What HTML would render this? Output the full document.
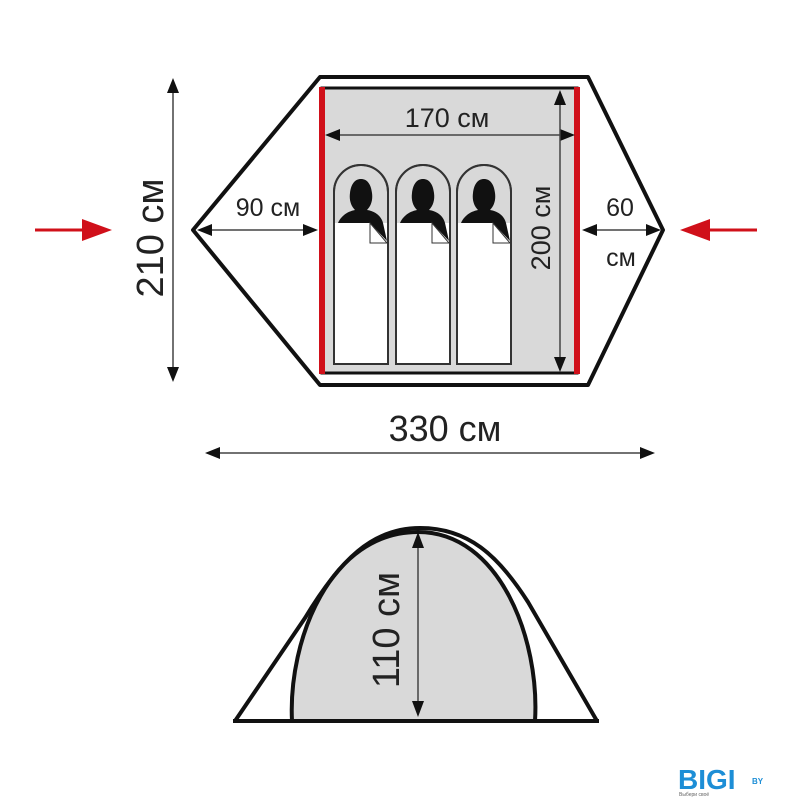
<!DOCTYPE html>
<html><head><meta charset="utf-8"><style>
html,body{margin:0;padding:0;background:#fff;}
svg{display:block;}
text{font-family:"Liberation Sans",sans-serif;fill:#222;}
</style></head><body>
<svg width="800" height="800" viewBox="0 0 800 800" xmlns="http://www.w3.org/2000/svg">
<defs>
<g id="bag">
<path d="M0,199 V27 A27,27 0 0 1 54,27 V199 Z" fill="#d8d8d8" stroke="#333" stroke-width="2"/>
<path d="M1,58 H53 V198 H1 Z" fill="#fff"/>
<path d="M4,58 C8,49 16,46 21,45 C17,41 15,35 16,28 C17,19 21,14 27,14 C33,14 37,19 38,28 C39,35 37,41 33,45 C40,46 47,50 49,58 L53,76 L36,58 Z" fill="#111"/>
<path d="M36,58 V78 H53 Z" fill="#fff" stroke="#333" stroke-width="1"/>
<path d="M0,199 V27 A27,27 0 0 1 54,27 V199 Z" fill="none" stroke="#333" stroke-width="2"/>
</g>
</defs>
<!-- top view -->
<polygon points="320,77 588,77 663,230 588,385 320,385 193,230" fill="#fff" stroke="#111" stroke-width="4" stroke-linejoin="round"/>
<rect x="322" y="88" width="255" height="285" fill="#d9d9d9" stroke="#111" stroke-width="3"/>
<line x1="322" y1="87" x2="322" y2="374" stroke="#d0101a" stroke-width="6"/>
<line x1="577" y1="87" x2="577" y2="374" stroke="#d0101a" stroke-width="6"/>
<use href="#bag" x="334" y="165"/>
<use href="#bag" x="396" y="165"/>
<use href="#bag" x="457" y="165"/>
<!-- 170 -->
<line x1="335" y1="135" x2="565" y2="135" stroke="#444" stroke-width="1.5"/>
<polygon points="325,135 340,129 340,141" fill="#111"/>
<polygon points="575,135 560,129 560,141" fill="#111"/>
<text x="447" y="127" font-size="27" text-anchor="middle">170 см</text>
<!-- 200 -->
<line x1="560" y1="100" x2="560" y2="362" stroke="#444" stroke-width="1.5"/>
<polygon points="560,90 554,105 566,105" fill="#111"/>
<polygon points="560,372 554,357 566,357" fill="#111"/>
<text transform="translate(550,228) rotate(-90)" font-size="27" text-anchor="middle">200 см</text>
<!-- 90 -->
<line x1="205" y1="230" x2="308" y2="230" stroke="#444" stroke-width="1.5"/>
<polygon points="197,230 212,224 212,236" fill="#111"/>
<polygon points="318,230 303,224 303,236" fill="#111"/>
<text x="268" y="216" font-size="25" text-anchor="middle">90 см</text>
<!-- 60 -->
<line x1="590" y1="230" x2="652" y2="230" stroke="#444" stroke-width="1.5"/>
<polygon points="582,230 597,224 597,236" fill="#111"/>
<polygon points="661,230 646,224 646,236" fill="#111"/>
<text x="620" y="216" font-size="25" text-anchor="middle">60</text>
<text x="621" y="266" font-size="25" text-anchor="middle">см</text>
<!-- 210 -->
<line x1="173" y1="88" x2="173" y2="372" stroke="#444" stroke-width="1.5"/>
<polygon points="173,78 167,93 179,93" fill="#111"/>
<polygon points="173,382 167,367 179,367" fill="#111"/>
<text transform="translate(163,238) rotate(-90)" font-size="38" text-anchor="middle">210 см</text>
<!-- red arrows -->
<line x1="35" y1="230" x2="90" y2="230" stroke="#d0101a" stroke-width="3"/>
<polygon points="112,230 82,219 82,241" fill="#d0101a"/>
<line x1="708" y1="230" x2="757" y2="230" stroke="#d0101a" stroke-width="3"/>
<polygon points="680,230 710,219 710,241" fill="#d0101a"/>
<!-- 330 -->
<line x1="215" y1="453" x2="645" y2="453" stroke="#444" stroke-width="1.5"/>
<polygon points="205,453 220,447 220,459" fill="#111"/>
<polygon points="655,453 640,447 640,459" fill="#111"/>
<text x="445" y="441" font-size="36" text-anchor="middle">330 см</text>
<!-- side view -->
<path d="M292,721 C288,640 330,532 418,532 C500,532 540,640 535,721 Z" fill="#d9d9d9" stroke="#111" stroke-width="4"/>
<path d="M235,721 L305,618 C340,560 372,528 420,528 C468,528 498,555 528,602 L597,721" fill="none" stroke="#111" stroke-width="4" stroke-linejoin="round"/>
<line x1="233" y1="721" x2="599" y2="721" stroke="#111" stroke-width="4"/>
<line x1="418" y1="545" x2="418" y2="705" stroke="#444" stroke-width="1.5"/>
<polygon points="418,532 412,548 424,548" fill="#111"/>
<polygon points="418,717 412,701 424,701" fill="#111"/>
<text transform="translate(399,630) rotate(-90)" font-size="38" text-anchor="middle">110 см</text>
<!-- logo -->
<text x="678" y="789" font-size="28" font-weight="bold" style="fill:#1d8ed6">BIGI</text>
<text x="752" y="784" font-size="8" font-weight="bold" style="fill:#1d8ed6">BY</text>
<text x="679" y="796" font-size="5" style="fill:#666">Выбери своё</text>
</svg>
</body></html>
